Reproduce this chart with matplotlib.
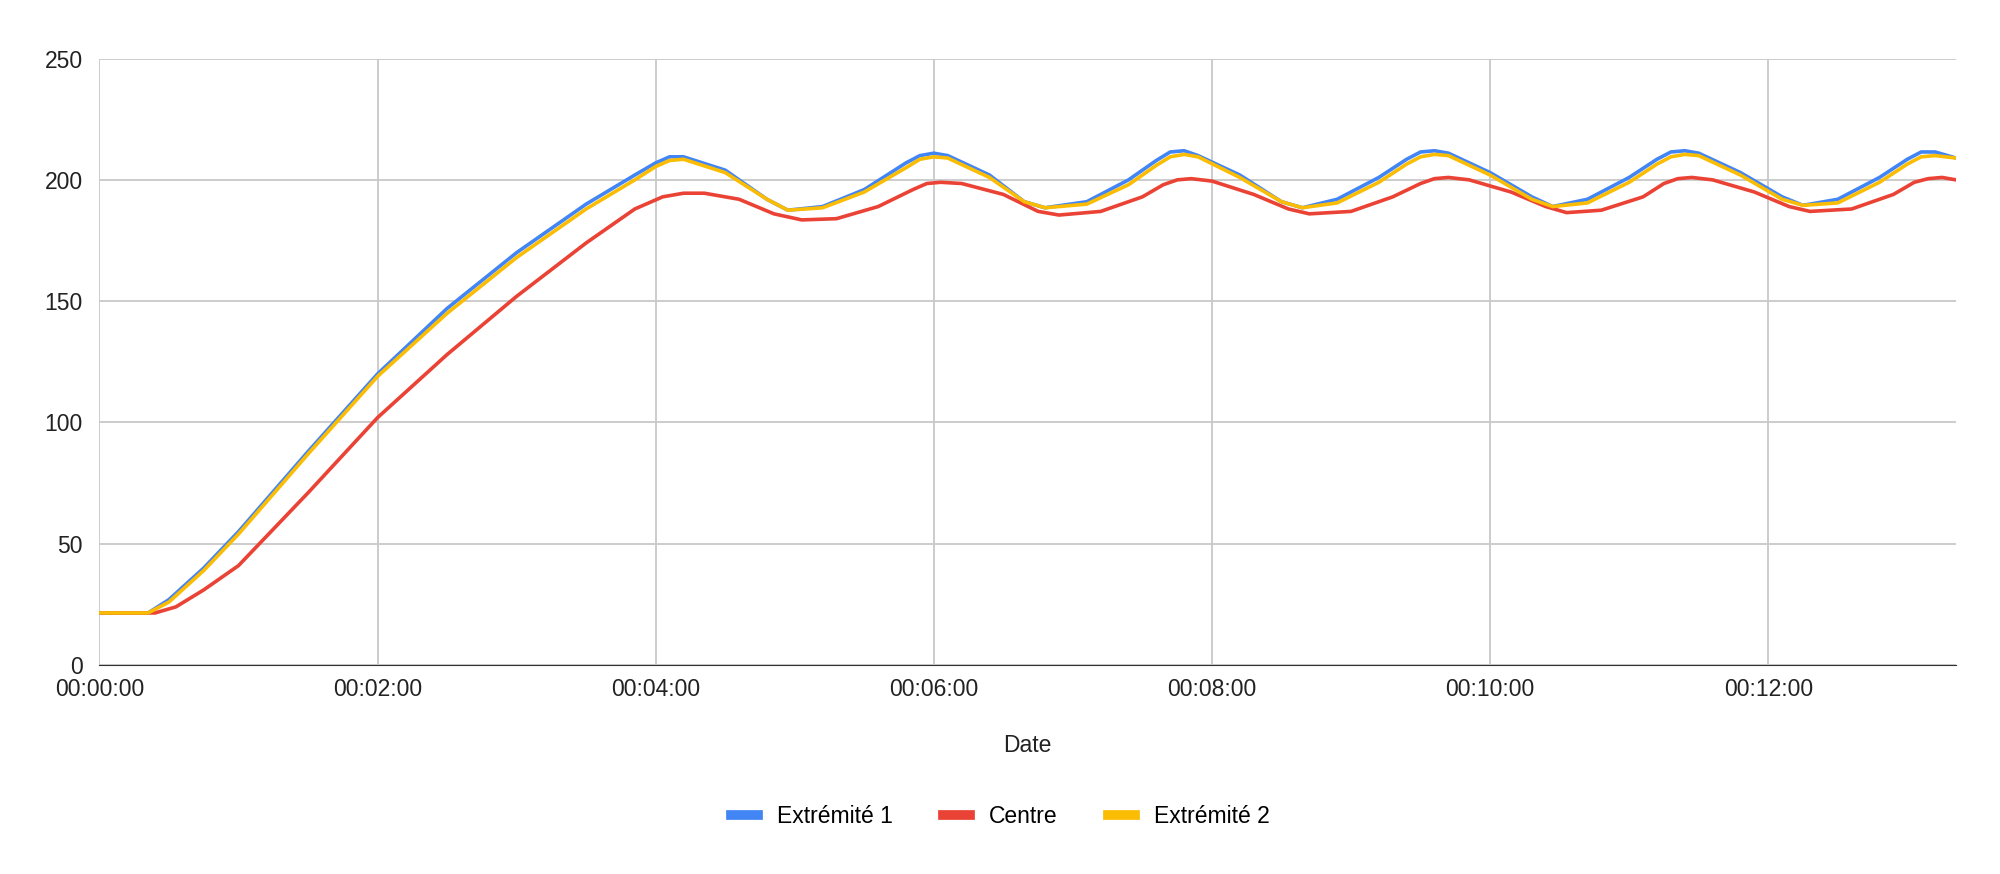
import matplotlib
matplotlib.use("Agg")
import matplotlib.pyplot as plt
from matplotlib.ticker import FuncFormatter, MultipleLocator

plt.rcParams['font.family'] = ['Liberation Sans', 'DejaVu Sans']

# time in minutes
t_ext1 = [0, 0.35, 0.5, 0.75, 1.0, 1.5, 2.0, 2.5, 3.0, 3.5, 3.85, 4.0, 4.1, 4.2, 4.5, 4.8, 4.95, 5.2, 5.5, 5.8, 5.9, 6.0, 6.1, 6.4, 6.65, 6.8, 7.1, 7.4, 7.6, 7.7, 7.8, 7.9, 8.2, 8.5, 8.65, 8.9, 9.2, 9.4, 9.5, 9.6, 9.7, 10.0, 10.3, 10.45, 10.7, 11.0, 11.2, 11.3, 11.4, 11.5, 11.8, 12.1, 12.25, 12.5, 12.8, 13.0, 13.1, 13.2, 13.35]
v_ext1 = [21.5, 21.5, 27, 40, 55, 88, 120, 147, 170, 190, 202, 207, 209.5, 209.5, 204, 192, 187.5, 189, 196, 207, 210, 211, 210, 202, 191, 188.5, 191, 200, 208, 211.5, 212, 210, 202, 191, 188.5, 192, 201, 208.5, 211.5, 212, 211, 203, 193, 189, 192, 201, 208.5, 211.5, 212, 211, 203, 193, 189.5, 192, 201, 208.5, 211.5, 211.5, 209]
t_ext2 = t_ext1
v_ext2 = [21.5, 21.5, 26, 39, 54, 87, 119, 145, 168, 188, 200, 205.5, 208, 208.5, 203, 192, 187.5, 188.5, 195, 205, 208.5, 209.5, 209, 201, 191, 188.5, 190, 198, 206, 209.5, 210.5, 209.5, 201, 191, 188.5, 190.5, 199, 206.5, 209.5, 210.5, 210, 202, 192, 189, 190.5, 199, 206.5, 209.5, 210.5, 210, 202, 192, 189.5, 190.5, 199, 206.5, 209.5, 210, 209]
t_centre = [0, 0.4, 0.55, 0.75, 1.0, 1.5, 2.0, 2.5, 3.0, 3.5, 3.85, 4.05, 4.2, 4.35, 4.6, 4.85, 5.05, 5.3, 5.6, 5.85, 5.95, 6.05, 6.2, 6.5, 6.75, 6.9, 7.2, 7.5, 7.65, 7.75, 7.85, 8.0, 8.3, 8.55, 8.7, 9.0, 9.3, 9.5, 9.6, 9.7, 9.85, 10.15, 10.4, 10.55, 10.8, 11.1, 11.25, 11.35, 11.45, 11.6, 11.9, 12.15, 12.3, 12.6, 12.9, 13.05, 13.15, 13.25, 13.35]
v_centre = [21.5, 21.5, 24, 31, 41, 71, 102, 128, 152, 174, 188, 193, 194.5, 194.5, 192, 186, 183.5, 184, 189, 196, 198.5, 199, 198.5, 194, 187, 185.5, 187, 193, 198, 200, 200.5, 199.5, 194, 188, 186, 187, 193, 198.5, 200.5, 201, 200, 195, 189, 186.5, 187.5, 193, 198.5, 200.5, 201, 200, 195, 189, 187, 188, 194, 199, 200.5, 201, 200]

fig = plt.figure(figsize=(20, 8.74), dpi=100)
ax = fig.add_axes([0.0497, 0.239, 0.9283, 0.694])
ax.plot(t_ext1, v_ext1, color='#4285F4', lw=2.6, label='Extrémité 1')
ax.plot(t_centre, v_centre, color='#EA4335', lw=2.6, label='Centre')
ax.plot(t_ext2, v_ext2, color='#FBBC04', lw=2.6, label='Extrémité 2')

ax.set_xlim(0, 13.35)
ax.set_ylim(0, 250)
ax.yaxis.set_major_locator(MultipleLocator(50))
ax.xaxis.set_major_locator(MultipleLocator(2))
ax.xaxis.set_major_formatter(FuncFormatter(lambda x, p: f"00:{int(round(x)):02d}:00"))
ax.grid(True, color='#c8c8c8', lw=1.3)
ax.set_axisbelow(True)
for s in ['top', 'right', 'left']:
    ax.spines[s].set_visible(False)
ax.spines['bottom'].set_color('#333333')
ax.tick_params(length=0, labelsize=16.5, colors='#222222', pad=9)
ax.tick_params(axis='y', pad=12)
ax.set_xlabel('Date', fontsize=16.5, color='#222222', labelpad=24)

leg = fig.legend(loc='center', bbox_to_anchor=(0.5, 0.066), ncol=3, frameon=False,
                 fontsize=16.5, handlelength=1.2, handleheight=0.5, columnspacing=2.2)
for h in leg.get_lines():
    h.set_linewidth(7)
fig.savefig('out.png', dpi=100)
